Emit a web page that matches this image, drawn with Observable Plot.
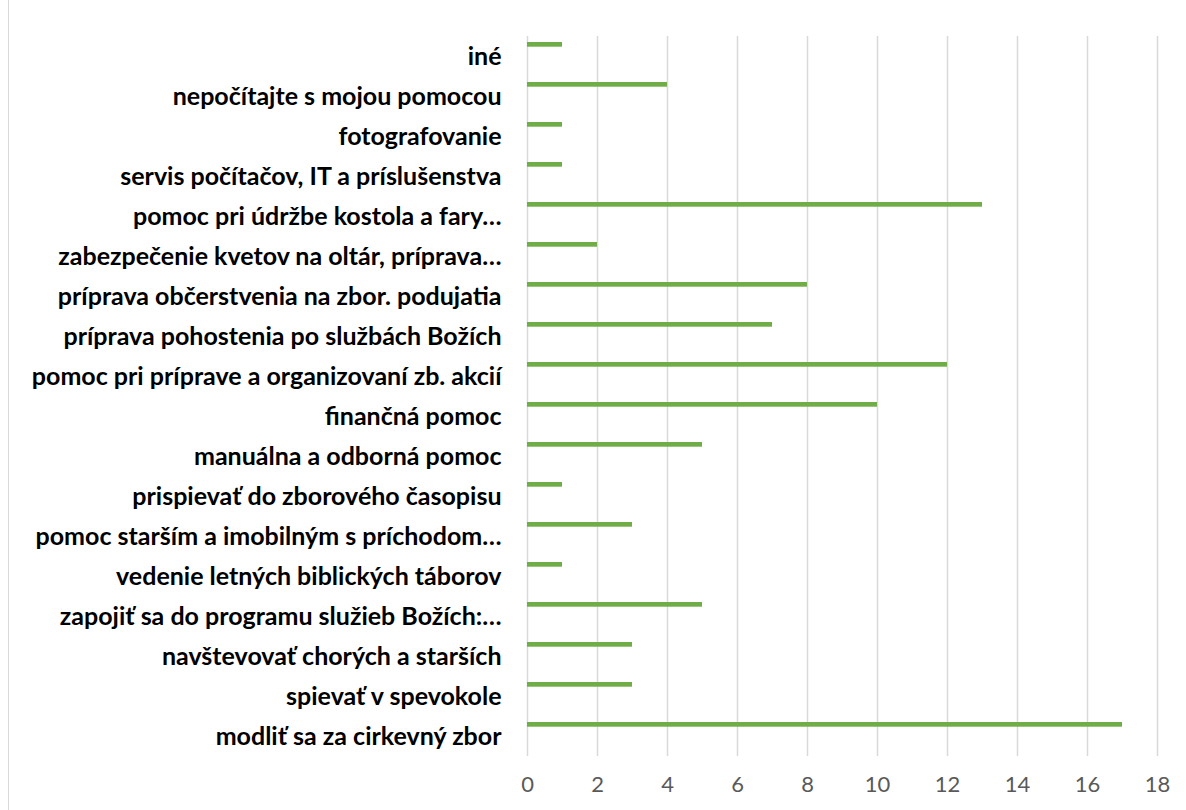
<!DOCTYPE html>
<html>
<head>
<meta charset="utf-8">
<script src="https://cdn.jsdelivr.net/npm/d3@7"></script>
<script src="https://cdn.jsdelivr.net/npm/@observablehq/plot@0.6"></script>
<style>
  html, body { margin: 0; padding: 0; background: #fff; }
  #wrap { position: relative; width: 1186px; height: 810px; overflow: hidden; }
  #chart { position: absolute; left: 0; top: 0; }
  #border { position: absolute; left: 8px; top: 0; width: 0; height: 810px; border-left: 1.5px solid #d9d9d9; z-index: 2; }
</style>
</head>
<body>
<div id="wrap"><div id="chart"></div><div id="border"></div></div>
<script>
const categories = [
  "iné",
  "nepočítajte s mojou pomocou",
  "fotografovanie",
  "servis počítačov, IT a príslušenstva",
  "pomoc pri údržbe kostola a fary…",
  "zabezpečenie kvetov na oltár, príprava…",
  "príprava občerstvenia na zbor. podujatia",
  "príprava pohostenia po službách Božích",
  "pomoc pri príprave a organizovaní zb. akcií",
  "finančná pomoc",
  "manuálna a odborná pomoc",
  "prispievať do zborového časopisu",
  "pomoc starším a imobilným s príchodom…",
  "vedenie letných biblických táborov",
  "zapojiť sa do programu služieb Božích:…",
  "navštevovať chorých a starších",
  "spievať v spevokole",
  "modliť sa za cirkevný zbor"
];
const values = [1, 4, 1, 1, 13, 2, 8, 7, 12, 10, 5, 1, 3, 1, 5, 3, 3, 17];
const xTicks = [0, 2, 4, 6, 8, 10, 12, 14, 16, 18];

const data = categories.map((c, i) => ({category: c, value: values[i]}));

const chart = Plot.plot({
  width: 1186,
  height: 810,
  marginTop: 36,
  marginBottom: 54,
  marginLeft: 527,
  marginRight: 29,
  style: {fontFamily: "Lato, 'Open Sans', sans-serif", background: "#fff"},
  x: {domain: [0, 18], ticks: xTicks, label: null},
  y: {domain: categories, padding: 0, label: null},
  marks: [
    Plot.ruleX(xTicks, {stroke: "#d9d9d9", strokeWidth: 1.5}),
    Plot.barX(data, {y: "category", x: "value", fill: "#70ad47", insetTop: 6, insetBottom: 29.3}),
    Plot.axisX({ticks: xTicks, tickSize: 0, tickPadding: 20, fontSize: 22, color: "#595959", label: null}),
    Plot.axisY({tickSize: 0, tickPadding: 26, fontSize: 25, fontWeight: "bold", fill: "#000", label: null, textOverflow: null})
  ]
});
document.getElementById("chart").appendChild(chart);
</script>
</body>
</html>
